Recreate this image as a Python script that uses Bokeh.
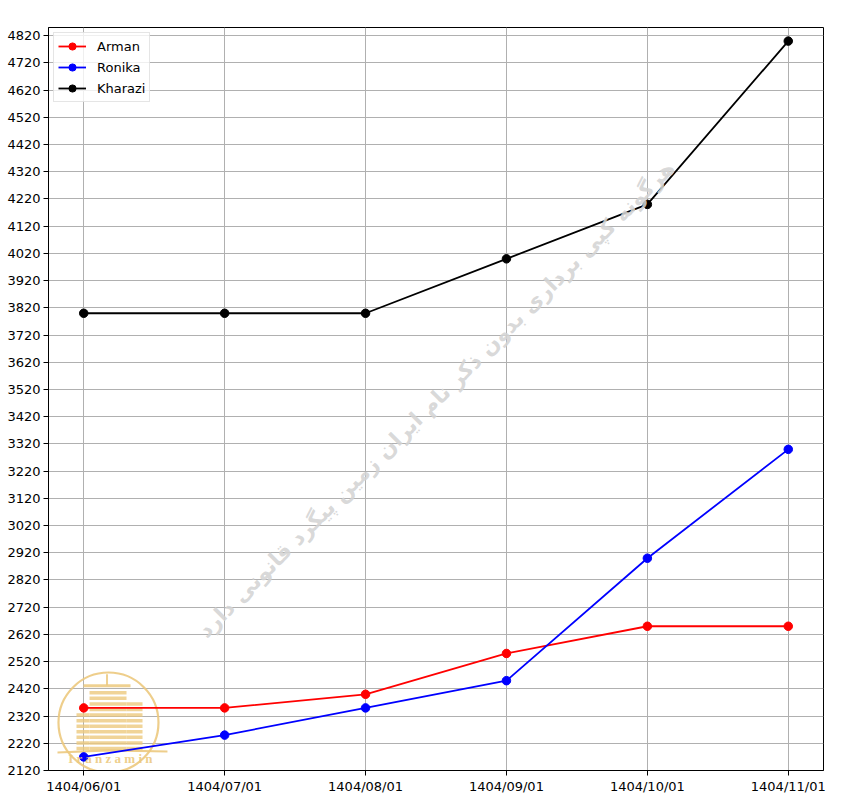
from bokeh.plotting import figure
from bokeh.models import Range1d, FixedTicker, Label
from bokeh.embed import file_html
from bokeh.resources import INLINE

dates = ["1404/06/01", "1404/07/01", "1404/08/01", "1404/09/01", "1404/10/01", "1404/11/01"]
arman = [2350, 2350, 2400, 2550, 2650, 2650]
ronika = [2170, 2250, 2350, 2450, 2900, 3300]
kharazi = [3800, 3800, 3800, 4000, 4200, 4800]
y_ticks = list(range(2120, 4821, 100))
watermark = "هرگونه کپی برداری بدون ذکر نام ایران زمین پیگرد قانونی دارد"

xs = list(range(len(dates)))
X0, X1 = -0.25, len(dates) - 1 + 0.25
Y0, Y1 = min(ronika + arman + kharazi) - 50, max(ronika + arman + kharazi) + 50

FONT = "DejaVu Sans"

p = figure(frame_width=775, frame_height=743, output_backend="svg", toolbar_location=None,
           x_range=Range1d(X0, X1), y_range=Range1d(Y0, Y1),
           min_border_left=48, min_border_top=27, min_border_right=25, min_border_bottom=30)

p.background_fill_color = "white"
p.border_fill_color = "white"
p.outline_line_color = "black"
p.outline_line_width = 1
p.outline_line_alpha = 1

for ax in (p.xaxis[0], p.yaxis[0]):
    ax.axis_line_color = "black"
    ax.major_tick_line_color = "black"
    ax.major_tick_out = 5
    ax.major_tick_in = 0
    ax.minor_tick_line_color = None
    ax.major_label_text_font = FONT
    ax.major_label_text_font_size = "13px"
    ax.major_label_text_color = "black"
    ax.major_label_standoff = 3

p.xaxis.ticker = FixedTicker(ticks=xs)
p.xaxis.major_label_overrides = {i: d for i, d in enumerate(dates)}
p.yaxis.ticker = FixedTicker(ticks=y_ticks)

p.grid.grid_line_color = "#b0b0b0"
p.grid.grid_line_width = 1

# --- logo (decorative, placed by frame fractions) ---
gold = "#ecc97e"
def fx(f):
    return X0 + (X1 - X0) * f
def fy(f):
    return Y0 + (Y1 - Y0) * f

p.scatter(x=[fx(0.0774)], y=[fy(0.0646)], marker="circle", size=100,
          fill_alpha=0, line_color=gold, line_width=2.2, line_alpha=0.9)

def stack(cx, w, n, a=0.8):
    ys = [fy(0.0296 + 0.0075 * i) for i in range(n)]
    p.rect(x=[fx(cx)] * n, y=ys, width=w, height=3.5, width_units="screen",
           height_units="screen", fill_color=gold, line_color=None, fill_alpha=a)

stack(0.0768, 37, 11)
stack(0.111, 16, 9)
stack(0.0445, 13, 7)
p.rect(x=[fx(0.0755)], y=[fy(0.114)], width=47, height=3, width_units="screen",
       height_units="screen", fill_color=gold, line_color=None, fill_alpha=0.85)
p.rect(x=[fx(0.0755)], y=[fy(0.122)], width=2, height=11, width_units="screen",
       height_units="screen", fill_color=gold, line_color=None, fill_alpha=0.85)
p.line(x=[fx(0.0116), fx(0.0774), fx(0.1535)], y=[fy(0.0242), fy(0.027), fy(0.0256)],
       line_color=gold, line_width=2.2, line_alpha=0.9)
p.add_layout(Label(x=fx(0.08), y=fy(0.016), text="I r a n z a m i n", text_font="Liberation Serif",
                   text_font_style="bold", text_font_size="13px", text_color=gold,
                   text_align="center", text_baseline="middle", text_alpha=0.9))

# --- watermark ---
p.add_layout(Label(x=(X0 + X1) / 2, y=(Y0 + Y1) / 2, text=watermark, angle=45, angle_units="deg",
                   text_font=FONT, text_font_style="bold", text_font_size="21.5px",
                   text_color="#d4d4d4", text_alpha=0.9,
                   text_align="center", text_baseline="middle"))

series = [("Arman", arman, "red"), ("Ronika", ronika, "blue"), ("Kharazi", kharazi, "black")]
for name, vals, col in series:
    p.line(xs, vals, line_color=col, line_width=1.8, legend_label=name)
    p.scatter(xs, vals, marker="circle", size=8.5, fill_color=col, line_color=col, legend_label=name)

lg = p.legend[0]
lg.location = "top_left"
lg.margin = 5
lg.padding = 4
lg.spacing = 3
lg.glyph_width = 28
lg.glyph_height = 18
lg.label_height = 18
lg.label_standoff = 11
lg.label_text_font = FONT
lg.label_text_font_size = "13px"
lg.label_text_color = "black"
lg.border_line_color = "#cccccc"
lg.border_line_width = 1
lg.background_fill_alpha = 0.8

open("out.html", "w").write(file_html(p, INLINE))
